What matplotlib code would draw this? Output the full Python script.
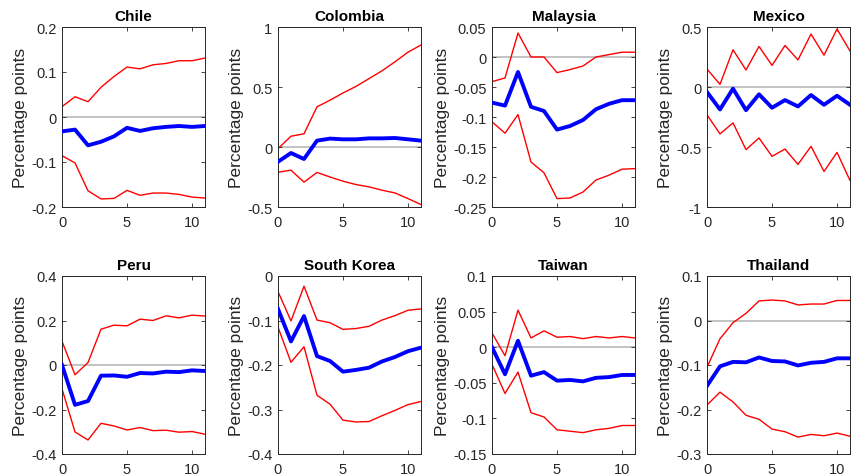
import matplotlib
matplotlib.use("Agg")
import matplotlib.pyplot as plt
from matplotlib.ticker import FuncFormatter
import numpy as np

plt.rcParams["font.family"] = ["Liberation Sans", "DejaVu Sans"]
plt.rcParams["axes.unicode_minus"] = False

horizon = np.arange(12)

countries = ["Chile", "Colombia", "Malaysia", "Mexico",
             "Peru", "South Korea", "Taiwan", "Thailand"]

chile_mid = [-0.032, -0.028, -0.063, -0.055, -0.043, -0.024, -0.031, -0.025, -0.022, -0.020, -0.022, -0.020]
chile_hi = [0.023, 0.045, 0.034, 0.066, 0.090, 0.111, 0.107, 0.116, 0.119, 0.125, 0.125, 0.131]
chile_lo = [-0.086, -0.102, -0.164, -0.182, -0.181, -0.163, -0.174, -0.169, -0.169, -0.172, -0.178, -0.180]

colombia_mid = [-0.123, -0.050, -0.100, 0.053, 0.070, 0.064, 0.064, 0.072, 0.072, 0.075, 0.064, 0.053]
colombia_hi = [-0.014, 0.090, 0.110, 0.335, 0.390, 0.450, 0.505, 0.570, 0.635, 0.710, 0.790, 0.850]
colombia_lo = [-0.210, -0.193, -0.293, -0.212, -0.250, -0.285, -0.313, -0.332, -0.360, -0.383, -0.430, -0.480]

malaysia_mid = [-0.076, -0.081, -0.025, -0.083, -0.090, -0.121, -0.115, -0.105, -0.087, -0.078, -0.072, -0.072]
malaysia_hi = [-0.041, -0.035, 0.040, 0.000, 0.000, -0.026, -0.021, -0.015, 0.000, 0.004, 0.008, 0.008]
malaysia_lo = [-0.108, -0.127, -0.096, -0.175, -0.193, -0.236, -0.235, -0.225, -0.205, -0.197, -0.187, -0.186]

mexico_mid = [-0.042, -0.187, -0.014, -0.193, -0.061, -0.173, -0.109, -0.162, -0.067, -0.148, -0.073, -0.148]
mexico_hi = [0.150, 0.022, 0.310, 0.142, 0.338, 0.180, 0.346, 0.226, 0.441, 0.265, 0.483, 0.300]
mexico_lo = [-0.232, -0.391, -0.299, -0.522, -0.425, -0.578, -0.517, -0.645, -0.494, -0.704, -0.545, -0.779]

peru_mid = [0.000, -0.179, -0.162, -0.048, -0.047, -0.053, -0.036, -0.038, -0.030, -0.032, -0.024, -0.027]
peru_hi = [0.107, -0.044, 0.011, 0.161, 0.179, 0.176, 0.206, 0.200, 0.221, 0.212, 0.224, 0.220]
peru_lo = [-0.107, -0.301, -0.337, -0.262, -0.274, -0.292, -0.281, -0.295, -0.293, -0.302, -0.299, -0.311]

korea_mid = [-0.074, -0.147, -0.090, -0.180, -0.191, -0.215, -0.211, -0.206, -0.192, -0.182, -0.169, -0.161]
korea_hi = [-0.035, -0.101, -0.023, -0.099, -0.105, -0.120, -0.118, -0.113, -0.099, -0.089, -0.077, -0.074]
korea_lo = [-0.115, -0.194, -0.159, -0.268, -0.288, -0.324, -0.328, -0.327, -0.314, -0.302, -0.289, -0.282]

taiwan_mid = [0.000, -0.038, 0.009, -0.040, -0.035, -0.047, -0.046, -0.048, -0.043, -0.042, -0.039, -0.039]
taiwan_hi = [0.020, -0.012, 0.052, 0.013, 0.023, 0.014, 0.015, 0.012, 0.015, 0.013, 0.015, 0.013]
taiwan_lo = [-0.024, -0.065, -0.035, -0.092, -0.098, -0.116, -0.118, -0.120, -0.116, -0.114, -0.110, -0.110]

thailand_mid = [-0.147, -0.103, -0.093, -0.094, -0.083, -0.091, -0.092, -0.101, -0.095, -0.093, -0.085, -0.085]
thailand_hi = [-0.105, -0.041, -0.005, 0.016, 0.044, 0.046, 0.044, 0.035, 0.037, 0.037, 0.045, 0.045]
thailand_lo = [-0.190, -0.161, -0.183, -0.213, -0.222, -0.244, -0.250, -0.262, -0.256, -0.259, -0.253, -0.260]

mids = [chile_mid, colombia_mid, malaysia_mid, mexico_mid,
        peru_mid, korea_mid, taiwan_mid, thailand_mid]
his = [chile_hi, colombia_hi, malaysia_hi, mexico_hi,
       peru_hi, korea_hi, taiwan_hi, thailand_hi]
los = [chile_lo, colombia_lo, malaysia_lo, mexico_lo,
       peru_lo, korea_lo, taiwan_lo, thailand_lo]

y_ticks = [
    [-0.2, -0.1, 0, 0.1, 0.2],
    [-0.5, 0, 0.5, 1],
    [-0.25, -0.2, -0.15, -0.1, -0.05, 0, 0.05],
    [-1, -0.5, 0, 0.5],
    [-0.4, -0.2, 0, 0.2, 0.4],
    [-0.4, -0.3, -0.2, -0.1, 0],
    [-0.15, -0.1, -0.05, 0, 0.05, 0.1],
    [-0.3, -0.2, -0.1, 0, 0.1],
]

W, H = 851, 477
fig = plt.figure(figsize=(W / 100, H / 100), dpi=100)

lefts = [62, 278, 492, 707]
tops = [28, 277]
bottoms = [208, 455]
width = 143

fmt = FuncFormatter(lambda v, p: ("%g" % round(v, 4)))
txt_col = "#262626"

for i, name in enumerate(countries):
    r, c = divmod(i, 4)
    ax = fig.add_axes([lefts[c] / W, 1 - bottoms[r] / H, width / W,
                       (bottoms[r] - tops[r]) / H])
    ax.axhline(0, color="#bdbdbd", lw=1.3, zorder=1)
    ax.plot(horizon, his[i], color="#ff0000", lw=1.0, zorder=2)
    ax.plot(horizon, los[i], color="#ff0000", lw=1.0, zorder=2)
    ax.plot(horizon, mids[i], color="#0000ff", lw=2.8, zorder=3)
    ax.set_xlim(0, 11)
    ax.set_ylim(y_ticks[i][0], y_ticks[i][-1])
    ax.set_xticks([0, 5, 10])
    ax.set_yticks(y_ticks[i])
    ax.yaxis.set_major_formatter(fmt)
    ax.tick_params(direction="in", top=True, right=True, length=3,
                   width=0.6, labelsize=10.5, colors=txt_col)
    ax.tick_params(axis="x", pad=6)
    ax.tick_params(axis="y", pad=4)
    for s in ax.spines.values():
        s.set_linewidth(0.7)
        s.set_color(txt_col)
    ax.set_title(name, fontsize=11, fontweight="bold", pad=5)
    ax.set_ylabel("Percentage points", fontsize=12.5, color=txt_col, labelpad=2)

fig.savefig("out.png", dpi=100)
